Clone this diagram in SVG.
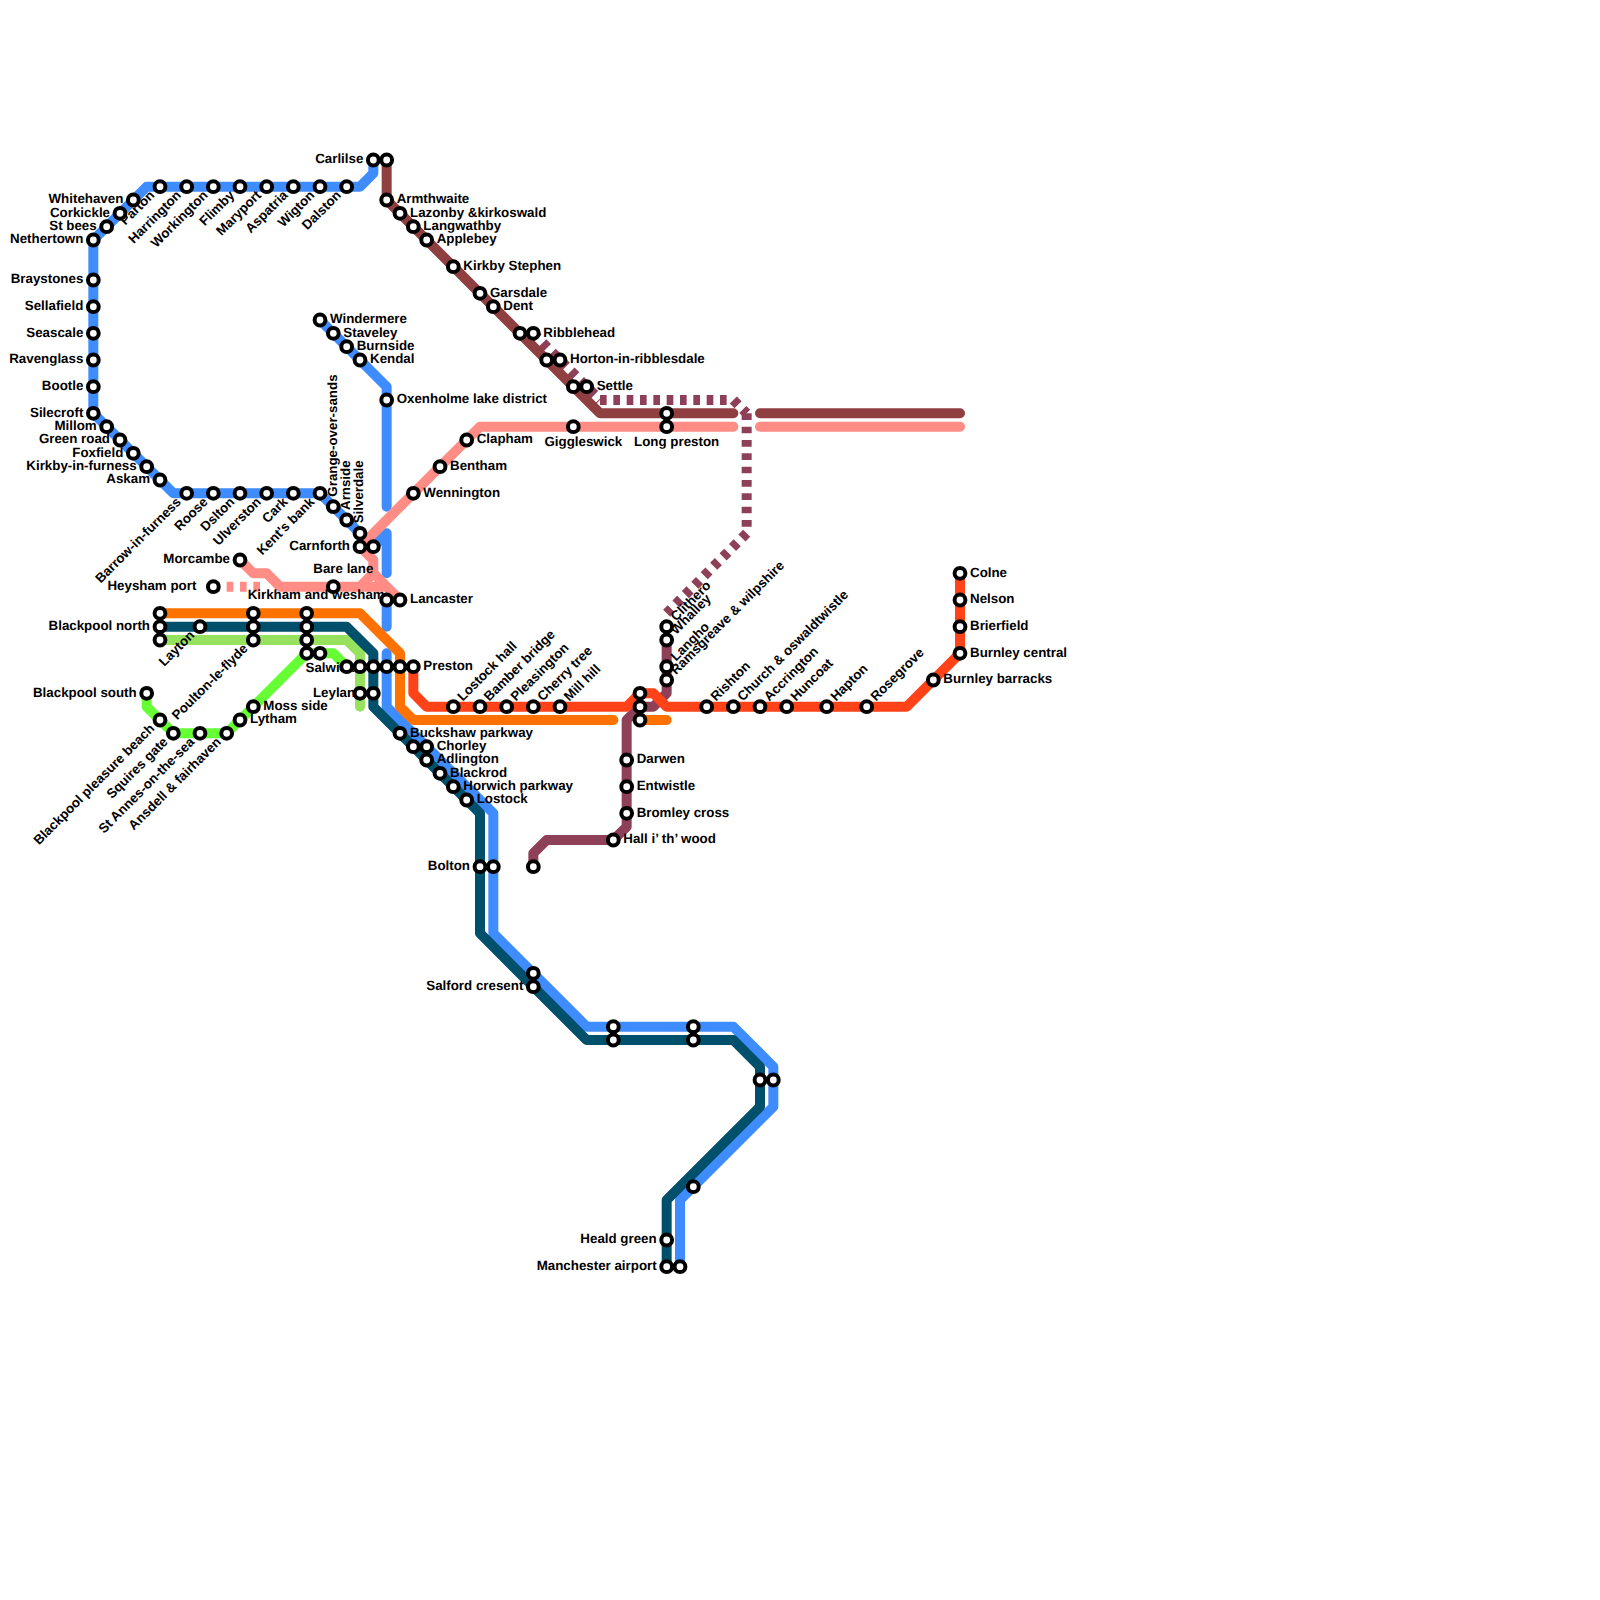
<svg xmlns="http://www.w3.org/2000/svg" width="1600" height="1600" viewBox="0 0 1600 1600">
<style>
.l{fill:none;stroke-width:.75;stroke-linecap:round;stroke-linejoin:round}
.d{stroke-dasharray:.5 .5;stroke-linecap:butt}
.blue{stroke:#3f8cff}.teal{stroke:#004f6b}.brown{stroke:#8f3f3f}.pink{stroke:#ff8c85}.orange{stroke:#ff7200}.red{stroke:#ff4218}.purple{stroke:#8f4059}.lime{stroke:#96e25f}.green{stroke:#66ff33}
circle{fill:#fff;stroke:#000;stroke-width:4}
text{font-family:"Liberation Sans",Arial,sans-serif;font-size:13.33px;font-weight:700;fill:#000;text-rendering:geometricPrecision}
.e{text-anchor:end}.m{text-anchor:middle}
</style>
<defs><circle id="s" r="5.4"/></defs>
<rect width="1600" height="1600" fill="#fff"/>
<g id="connectors" transform="scale(13.33333)">
<path class="l purple d" d="M40 25L45 30"/>
<path class="l purple d" d="M45 30H55"/>
<path class="l purple d" d="M55 30L56 31"/>
<path class="l purple d" d="M56 31V40"/>
<path class="l purple d" d="M56 40L50 46"/>
<path class="l pink d" d="M16 44H20"/>
<path class="l blue" d="M7 31V18L11 14H27L28 13V12"/>
<path class="l blue" d="M7 31L13 37H24L28 41"/>
<path class="l blue" d="M28 41L29 40V43"/>
<path class="l blue" d="M24 24L29 29V38"/>
<path class="l blue" d="M29 45V47"/>
<path class="l blue" d="M29 49V53L37 61V70L44 77H55L58 80V83L51 90V95"/>
<path class="l lime" d="M12 48H26L27 49V53"/>
<path class="l teal" d="M12 47H26L28 49V53L36 61V70L44 78H55L57 80V83L50 90V95"/>
<path class="l green" d="M11 52V53L13 55H17L23 49H25L26 50"/>
<path class="l orange" d="M12 46H27L30 49V53L31 54H46"/>
<path class="l orange" d="M48 54H50"/>
<path class="l brown" d="M29 12V15L45 31H55"/>
<path class="l brown" d="M57 31H72"/>
<path class="l pink" d="M55 32H36L27 41L28 42V43L27 44H21L20 43H19L18 42"/>
<path class="l pink" d="M28 43L30 45L29 44H27"/>
<path class="l pink" d="M57 32H72"/>
<path class="l purple" d="M50 48V52L49 53H48L47 54V62L46 63H41L40 64V65"/>
<path class="l red" d="M72 43V49L68 53H50L49 52H48L47 53H32L31 52V50"/>
</g>
<g id="nodes">
<g id="n-carlilse" transform="translate(373.33,160)"><text class="e" x="-10" y="3.2">Carlilse</text><use href="#s"/></g>
<g id="n-carlisle-2" transform="translate(386.67,160)"><use href="#s"/></g>
<g id="n-armthwaite" transform="translate(386.67,200)"><text x="10" y="3.2">Armthwaite</text><use href="#s"/></g>
<g id="n-lazonby" transform="translate(400,213.33)"><text x="10" y="3.2">Lazonby &amp;kirkoswald</text><use href="#s"/></g>
<g id="n-langwathby" transform="translate(413.33,226.67)"><text x="10" y="3.2">Langwathby</text><use href="#s"/></g>
<g id="n-applebey" transform="translate(426.67,240)"><text x="10" y="3.2">Applebey</text><use href="#s"/></g>
<g id="n-kirkby-stephen" transform="translate(453.33,266.67)"><text x="10" y="3.2">Kirkby Stephen</text><use href="#s"/></g>
<g id="n-garsdale" transform="translate(480,293.33)"><text x="10" y="3.2">Garsdale</text><use href="#s"/></g>
<g id="n-dent" transform="translate(493.33,306.67)"><text x="10" y="3.2">Dent</text><use href="#s"/></g>
<g id="n-ribblehead-2" transform="translate(520,333.33)"><use href="#s"/></g>
<g id="n-ribblehead" transform="translate(533.33,333.33)"><text x="10" y="3.2">Ribblehead</text><use href="#s"/></g>
<g id="n-horton-2" transform="translate(546.67,360)"><use href="#s"/></g>
<g id="n-horton" transform="translate(560,360)"><text x="10" y="3.2">Horton-in-ribblesdale</text><use href="#s"/></g>
<g id="n-settle-2" transform="translate(573.33,386.67)"><use href="#s"/></g>
<g id="n-settle" transform="translate(586.67,386.67)"><text x="10" y="3.2">Settle</text><use href="#s"/></g>
<g id="n-long-preston-2" transform="translate(666.67,413.33)"><use href="#s"/></g>
<g id="n-long-preston" transform="translate(666.67,426.67)"><text class="m" x="10" y="19">Long preston</text><use href="#s"/></g>
<g id="n-giggleswick" transform="translate(573.33,426.67)"><text class="m" x="10" y="19">Giggleswick</text><use href="#s"/></g>
<g id="n-windermere" transform="translate(320,320)"><text x="10" y="3.2">Windermere</text><use href="#s"/></g>
<g id="n-staveley" transform="translate(333.33,333.33)"><text x="10" y="3.2">Staveley</text><use href="#s"/></g>
<g id="n-burnside" transform="translate(346.67,346.67)"><text x="10" y="3.2">Burnside</text><use href="#s"/></g>
<g id="n-kendal" transform="translate(360,360)"><text x="10" y="3.2">Kendal</text><use href="#s"/></g>
<g id="n-oxenholme" transform="translate(386.67,400)"><text x="10" y="3.2">Oxenholme lake district</text><use href="#s"/></g>
<g id="n-clapham" transform="translate(466.67,440)"><text x="10" y="3.2">Clapham</text><use href="#s"/></g>
<g id="n-bentham" transform="translate(440,466.67)"><text x="10" y="3.2">Bentham</text><use href="#s"/></g>
<g id="n-wennington" transform="translate(413.33,493.33)"><text x="10" y="3.2">Wennington</text><use href="#s"/></g>
<g id="n-parton" transform="translate(160,186.67)"><text class="e" x="-10" y="3.2" transform="rotate(-45)">Parton</text><use href="#s"/></g>
<g id="n-harrington" transform="translate(186.67,186.67)"><text class="e" x="-10" y="3.2" transform="rotate(-45)">Harrington</text><use href="#s"/></g>
<g id="n-workington" transform="translate(213.33,186.67)"><text class="e" x="-10" y="3.2" transform="rotate(-45)">Workington</text><use href="#s"/></g>
<g id="n-flimby" transform="translate(240,186.67)"><text class="e" x="-10" y="3.2" transform="rotate(-45)">Flimby</text><use href="#s"/></g>
<g id="n-maryport" transform="translate(266.67,186.67)"><text class="e" x="-10" y="3.2" transform="rotate(-45)">Maryport</text><use href="#s"/></g>
<g id="n-aspatria" transform="translate(293.33,186.67)"><text class="e" x="-10" y="3.2" transform="rotate(-45)">Aspatria</text><use href="#s"/></g>
<g id="n-wigton" transform="translate(320,186.67)"><text class="e" x="-10" y="3.2" transform="rotate(-45)">Wigton</text><use href="#s"/></g>
<g id="n-dalston" transform="translate(346.67,186.67)"><text class="e" x="-10" y="3.2" transform="rotate(-45)">Dalston</text><use href="#s"/></g>
<g id="n-whitehaven" transform="translate(133.33,200)"><text class="e" x="-10" y="3.2">Whitehaven</text><use href="#s"/></g>
<g id="n-corkickle" transform="translate(120,213.33)"><text class="e" x="-10" y="3.2">Corkickle</text><use href="#s"/></g>
<g id="n-st-bees" transform="translate(106.67,226.67)"><text class="e" x="-10" y="3.2">St bees</text><use href="#s"/></g>
<g id="n-nethertown" transform="translate(93.33,240)"><text class="e" x="-10" y="3.2">Nethertown</text><use href="#s"/></g>
<g id="n-braystones" transform="translate(93.33,280)"><text class="e" x="-10" y="3.2">Braystones</text><use href="#s"/></g>
<g id="n-sellafield" transform="translate(93.33,306.67)"><text class="e" x="-10" y="3.2">Sellafield</text><use href="#s"/></g>
<g id="n-seascale" transform="translate(93.33,333.33)"><text class="e" x="-10" y="3.2">Seascale</text><use href="#s"/></g>
<g id="n-ravenglass" transform="translate(93.33,360)"><text class="e" x="-10" y="3.2">Ravenglass</text><use href="#s"/></g>
<g id="n-bootle" transform="translate(93.33,386.67)"><text class="e" x="-10" y="3.2">Bootle</text><use href="#s"/></g>
<g id="n-silecroft" transform="translate(93.33,413.33)"><text class="e" x="-10" y="3.2">Silecroft</text><use href="#s"/></g>
<g id="n-millom" transform="translate(106.67,426.67)"><text class="e" x="-10" y="3.2">Millom</text><use href="#s"/></g>
<g id="n-green-road" transform="translate(120,440)"><text class="e" x="-10" y="3.2">Green road</text><use href="#s"/></g>
<g id="n-foxfield" transform="translate(133.33,453.33)"><text class="e" x="-10" y="3.2">Foxfield</text><use href="#s"/></g>
<g id="n-kirkby-in-furness" transform="translate(146.67,466.67)"><text class="e" x="-10" y="3.2">Kirkby-in-furness</text><use href="#s"/></g>
<g id="n-askam" transform="translate(160,480)"><text class="e" x="-10" y="3.2">Askam</text><use href="#s"/></g>
<g id="n-barrow" transform="translate(186.67,493.33)"><text class="e" x="-10" y="3.2" transform="rotate(-45)">Barrow-in-furness</text><use href="#s"/></g>
<g id="n-roose" transform="translate(213.33,493.33)"><text class="e" x="-10" y="3.2" transform="rotate(-45)">Roose</text><use href="#s"/></g>
<g id="n-dslton" transform="translate(240,493.33)"><text class="e" x="-10" y="3.2" transform="rotate(-45)">Dslton</text><use href="#s"/></g>
<g id="n-ulverston" transform="translate(266.67,493.33)"><text class="e" x="-10" y="3.2" transform="rotate(-45)">Ulverston</text><use href="#s"/></g>
<g id="n-cark" transform="translate(293.33,493.33)"><text class="e" x="-10" y="3.2" transform="rotate(-45)">Cark</text><use href="#s"/></g>
<g id="n-kents-bank" transform="translate(320,493.33)"><text class="e" x="-10" y="3.2" transform="rotate(-45)">Kent's bank</text><use href="#s"/></g>
<g id="n-grange" transform="translate(333.33,506.67)"><text x="10" y="3.2" transform="rotate(-90)">Grange-over-sands</text><use href="#s"/></g>
<g id="n-arnside" transform="translate(346.67,520)"><text x="10" y="3.2" transform="rotate(-90)">Arnside</text><use href="#s"/></g>
<g id="n-silverdale" transform="translate(360,533.33)"><text x="10" y="3.2" transform="rotate(-90)">Silverdale</text><use href="#s"/></g>
<g id="n-carnforth" transform="translate(360,546.67)"><text class="e" x="-10" y="3.2">Carnforth</text><use href="#s"/></g>
<g id="n-carnforth-2" transform="translate(373.33,546.67)"><use href="#s"/></g>
<g id="n-morcambe" transform="translate(240,560)"><text class="e" x="-10" y="3.2">Morcambe</text><use href="#s"/></g>
<g id="n-heysham" transform="translate(213.33,586.67)"><text class="e" x="-17" y="3.2">Heysham port</text><use href="#s"/></g>
<g id="n-bare-lane" transform="translate(333.33,586.67)"><text class="m" x="10" y="-14">Bare lane</text><use href="#s"/></g>
<g id="n-kirkham" transform="translate(386.67,600)"><text class="e" x="-2" y="-1.5">Kirkham and wesham</text><use href="#s"/></g>
<g id="n-lancaster" transform="translate(400,600)"><text x="10" y="3.2">Lancaster</text><use href="#s"/></g>
<g id="n-blackpool-north-1" transform="translate(160,613.33)"><use href="#s"/></g>
<g id="n-blackpool-north" transform="translate(160,626.67)"><text class="e" x="-10" y="3.2">Blackpool north</text><use href="#s"/></g>
<g id="n-blackpool-north-3" transform="translate(160,640)"><use href="#s"/></g>
<g id="n-layton" transform="translate(200,626.67)"><text class="e" x="-10" y="3.2" transform="rotate(-45)">Layton</text><use href="#s"/></g>
<g id="n-poulton" transform="translate(253.33,640)"><text class="e" x="-10" y="3.2" transform="rotate(-45)">Poulton-le-flyde</text><use href="#s"/></g>
<g id="n-poulton-2" transform="translate(253.33,626.67)"><use href="#s"/></g>
<g id="n-poulton-3" transform="translate(253.33,613.33)"><use href="#s"/></g>
<g id="n-k1" transform="translate(306.67,613.33)"><use href="#s"/></g>
<g id="n-k2" transform="translate(306.67,626.67)"><use href="#s"/></g>
<g id="n-k3" transform="translate(306.67,640)"><use href="#s"/></g>
<g id="n-k4" transform="translate(306.67,653.33)"><use href="#s"/></g>
<g id="n-salwick" transform="translate(320,653.33)"><text class="m" x="10" y="19">Salwick</text><use href="#s"/></g>
<g id="n-p1" transform="translate(346.67,666.67)"><use href="#s"/></g>
<g id="n-p2" transform="translate(360,666.67)"><use href="#s"/></g>
<g id="n-p3" transform="translate(373.33,666.67)"><use href="#s"/></g>
<g id="n-p4" transform="translate(386.67,666.67)"><use href="#s"/></g>
<g id="n-p5" transform="translate(400,666.67)"><use href="#s"/></g>
<g id="n-preston" transform="translate(413.33,666.67)"><text x="10" y="3.2">Preston</text><use href="#s"/></g>
<g id="n-leyland" transform="translate(373.33,693.33)"><text class="e" x="-10" y="3.2">Leyland</text><use href="#s"/></g>
<g id="n-leyland-2" transform="translate(360,693.33)"><use href="#s"/></g>
<g id="n-moss-side" transform="translate(253.33,706.67)"><text x="10" y="3.2">Moss side</text><use href="#s"/></g>
<g id="n-lytham" transform="translate(240,720)"><text x="10" y="3.2">Lytham</text><use href="#s"/></g>
<g id="n-ansdell" transform="translate(226.67,733.33)"><text class="e" x="-10" y="3.2" transform="rotate(-45)">Ansdell &amp; fairhaven</text><use href="#s"/></g>
<g id="n-st-annes" transform="translate(200,733.33)"><text class="e" x="-10" y="3.2" transform="rotate(-45)">St Annes-on-the-sea</text><use href="#s"/></g>
<g id="n-squires" transform="translate(173.33,733.33)"><text class="e" x="-10" y="3.2" transform="rotate(-45)">Squires gate</text><use href="#s"/></g>
<g id="n-pleasure-beach" transform="translate(160,720)"><text class="e" x="-10" y="3.2" transform="rotate(-45)">Blackpool pleasure beach</text><use href="#s"/></g>
<g id="n-blackpool-south" transform="translate(146.67,693.33)"><text class="e" x="-10" y="3.2">Blackpool south</text><use href="#s"/></g>
<g id="n-buckshaw" transform="translate(400,733.33)"><text x="10" y="3.2">Buckshaw parkway</text><use href="#s"/></g>
<g id="n-chorley-2" transform="translate(413.33,746.67)"><use href="#s"/></g>
<g id="n-chorley" transform="translate(426.67,746.67)"><text x="10" y="3.2">Chorley</text><use href="#s"/></g>
<g id="n-adlington" transform="translate(426.67,760)"><text x="10" y="3.2">Adlington</text><use href="#s"/></g>
<g id="n-blackrod" transform="translate(440,773.33)"><text x="10" y="3.2">Blackrod</text><use href="#s"/></g>
<g id="n-horwich" transform="translate(453.33,786.67)"><text x="10" y="3.2">Horwich parkway</text><use href="#s"/></g>
<g id="n-lostock" transform="translate(466.67,800)"><text x="10" y="3.2">Lostock</text><use href="#s"/></g>
<g id="n-bolton" transform="translate(480,866.67)"><text class="e" x="-10" y="3.2">Bolton</text><use href="#s"/></g>
<g id="n-bolton-2" transform="translate(493.33,866.67)"><use href="#s"/></g>
<g id="n-lostock-hall" transform="translate(453.33,706.67)"><text x="10" y="3.2" transform="rotate(-45)">Lostock hall</text><use href="#s"/></g>
<g id="n-bamber" transform="translate(480,706.67)"><text x="10" y="3.2" transform="rotate(-45)">Bamber bridge</text><use href="#s"/></g>
<g id="n-pleasington" transform="translate(506.67,706.67)"><text x="10" y="3.2" transform="rotate(-45)">Pleasington</text><use href="#s"/></g>
<g id="n-cherry-tree" transform="translate(533.33,706.67)"><text x="10" y="3.2" transform="rotate(-45)">Cherry tree</text><use href="#s"/></g>
<g id="n-mill-hill" transform="translate(560,706.67)"><text x="10" y="3.2" transform="rotate(-45)">Mill hill</text><use href="#s"/></g>
<g id="n-blackburn-1" transform="translate(640,693.33)"><use href="#s"/></g>
<g id="n-blackburn-2" transform="translate(640,706.67)"><use href="#s"/></g>
<g id="n-blackburn-3" transform="translate(640,720)"><use href="#s"/></g>
<g id="n-rishton" transform="translate(706.67,706.67)"><text x="10" y="3.2" transform="rotate(-45)">Rishton</text><use href="#s"/></g>
<g id="n-church" transform="translate(733.33,706.67)"><text x="10" y="3.2" transform="rotate(-45)">Church &amp; oswaldtwistle</text><use href="#s"/></g>
<g id="n-accrington" transform="translate(760,706.67)"><text x="10" y="3.2" transform="rotate(-45)">Accrington</text><use href="#s"/></g>
<g id="n-huncoat" transform="translate(786.67,706.67)"><text x="10" y="3.2" transform="rotate(-45)">Huncoat</text><use href="#s"/></g>
<g id="n-hapton" transform="translate(826.67,706.67)"><text x="10" y="3.2" transform="rotate(-45)">Hapton</text><use href="#s"/></g>
<g id="n-rosegrove" transform="translate(866.67,706.67)"><text x="10" y="3.2" transform="rotate(-45)">Rosegrove</text><use href="#s"/></g>
<g id="n-burnley-barracks" transform="translate(933.33,680)"><text x="10" y="3.2">Burnley barracks</text><use href="#s"/></g>
<g id="n-burnley-central" transform="translate(960,653.33)"><text x="10" y="3.2">Burnley central</text><use href="#s"/></g>
<g id="n-brierfield" transform="translate(960,626.67)"><text x="10" y="3.2">Brierfield</text><use href="#s"/></g>
<g id="n-nelson" transform="translate(960,600)"><text x="10" y="3.2">Nelson</text><use href="#s"/></g>
<g id="n-colne" transform="translate(960,573.33)"><text x="10" y="3.2">Colne</text><use href="#s"/></g>
<g id="n-ramsgreave" transform="translate(666.67,680)"><text x="10" y="3.2" transform="rotate(-45)">Ramsgreave &amp; wilpshire</text><use href="#s"/></g>
<g id="n-langho" transform="translate(666.67,666.67)"><text x="10" y="3.2" transform="rotate(-45)">Langho</text><use href="#s"/></g>
<g id="n-whalley" transform="translate(666.67,640)"><text x="10" y="3.2" transform="rotate(-45)">Whalley</text><use href="#s"/></g>
<g id="n-clithero" transform="translate(666.67,626.67)"><text x="10" y="3.2" transform="rotate(-45)">Clithero</text><use href="#s"/></g>
<g id="n-darwen" transform="translate(626.67,760)"><text x="10" y="3.2">Darwen</text><use href="#s"/></g>
<g id="n-entwistle" transform="translate(626.67,786.67)"><text x="10" y="3.2">Entwistle</text><use href="#s"/></g>
<g id="n-bromley" transform="translate(626.67,813.33)"><text x="10" y="3.2">Bromley cross</text><use href="#s"/></g>
<g id="n-hall" transform="translate(613.33,840)"><text x="10" y="3.2">Hall i’ th’ wood</text><use href="#s"/></g>
<g id="n-purple-end" transform="translate(533.33,866.67)"><use href="#s"/></g>
<g id="n-salford-1" transform="translate(533.33,973.33)"><use href="#s"/></g>
<g id="n-salford" transform="translate(533.33,986.67)"><text class="e" x="-10" y="3.2">Salford cresent</text><use href="#s"/></g>
<g id="n-m1" transform="translate(613.33,1026.67)"><use href="#s"/></g>
<g id="n-m2" transform="translate(613.33,1040)"><use href="#s"/></g>
<g id="n-m3" transform="translate(693.33,1026.67)"><use href="#s"/></g>
<g id="n-m4" transform="translate(693.33,1040)"><use href="#s"/></g>
<g id="n-m5" transform="translate(760,1080)"><use href="#s"/></g>
<g id="n-m6" transform="translate(773.33,1080)"><use href="#s"/></g>
<g id="n-m7" transform="translate(693.33,1186.67)"><use href="#s"/></g>
<g id="n-heald-green" transform="translate(666.67,1240)"><text class="e" x="-10" y="3.2">Heald green</text><use href="#s"/></g>
<g id="n-manchester-airport" transform="translate(666.67,1266.67)"><text class="e" x="-10" y="3.2">Manchester airport</text><use href="#s"/></g>
<g id="n-manchester-airport-2" transform="translate(680,1266.67)"><use href="#s"/></g>
</g>
</svg>
